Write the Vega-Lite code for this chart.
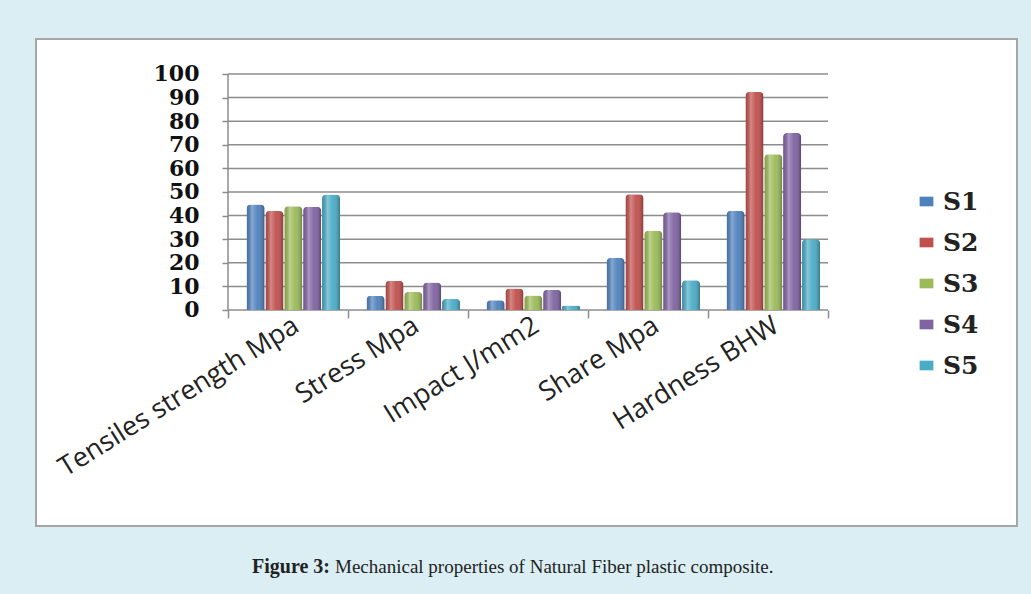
{
  "$schema": "https://vega.github.io/schema/vega-lite/v6.json",
  "width": 981,
  "height": 487,
  "autosize": {"type": "none"},
  "padding": {"left": 36, "top": 39, "right": 14, "bottom": 68},
  "background": "#DAEEF3",
  "view": {"fill": "white", "stroke": "#a6a6a6", "strokeWidth": 2},
  "datasets": {
    "bars": [
      {"prop": "Tensiles strength Mpa", "series": "S1", "value": 44.7},
      {"prop": "Tensiles strength Mpa", "series": "S2", "value": 41.9},
      {"prop": "Tensiles strength Mpa", "series": "S3", "value": 44.0},
      {"prop": "Tensiles strength Mpa", "series": "S4", "value": 43.8},
      {"prop": "Tensiles strength Mpa", "series": "S5", "value": 48.9},
      {"prop": "Stress Mpa", "series": "S1", "value": 6.0},
      {"prop": "Stress Mpa", "series": "S2", "value": 12.4},
      {"prop": "Stress Mpa", "series": "S3", "value": 7.6},
      {"prop": "Stress Mpa", "series": "S4", "value": 11.6},
      {"prop": "Stress Mpa", "series": "S5", "value": 4.7},
      {"prop": "Impact J/mm2", "series": "S1", "value": 4.1},
      {"prop": "Impact J/mm2", "series": "S2", "value": 9.1},
      {"prop": "Impact J/mm2", "series": "S3", "value": 6.1},
      {"prop": "Impact J/mm2", "series": "S4", "value": 8.6},
      {"prop": "Impact J/mm2", "series": "S5", "value": 1.9},
      {"prop": "Share Mpa", "series": "S1", "value": 22.0},
      {"prop": "Share Mpa", "series": "S2", "value": 49.0},
      {"prop": "Share Mpa", "series": "S3", "value": 33.6},
      {"prop": "Share Mpa", "series": "S4", "value": 41.4},
      {"prop": "Share Mpa", "series": "S5", "value": 12.6},
      {"prop": "Hardness BHW", "series": "S1", "value": 42.0},
      {"prop": "Hardness BHW", "series": "S2", "value": 92.4},
      {"prop": "Hardness BHW", "series": "S3", "value": 66.0},
      {"prop": "Hardness BHW", "series": "S4", "value": 75.0},
      {"prop": "Hardness BHW", "series": "S5", "value": 30.0}
    ],
    "ticks": [
      {"v": 0}, {"v": 10}, {"v": 20}, {"v": 30}, {"v": 40}, {"v": 50},
      {"v": 60}, {"v": 70}, {"v": 80}, {"v": 90}, {"v": 100}
    ]
  },
  "layer": [
    {
      "data": {"name": "ticks"},
      "mark": {"type": "rule", "color": "#8c8c8c", "strokeWidth": 1.5},
      "encoding": {
        "x": {"datum": "Tensiles strength Mpa", "bandPosition": 0},
        "x2": {"datum": "Hardness BHW", "bandPosition": 1},
        "y": {
          "field": "v", "type": "quantitative",
          "scale": {"domain": [-91.53, 114.83], "nice": false, "zero": false},
          "axis": {
            "values": [0, 10, 20, 30, 40, 50, 60, 70, 80, 90, 100],
            "offset": -192, "domain": false, "grid": false, "title": null, "zindex": 1,
            "tickColor": "#8c8c8c", "tickSize": 6, "tickWidth": 1.5,
            "labelFont": "DejaVu Serif", "labelFontWeight": "bold", "labelFontSize": 22,
            "labelColor": "#111111", "labelPadding": 23, "labelOverlap": false
          }
        }
      }
    },
    {
      "data": {"values": [{"edge": "left wall"}]},
      "mark": {"type": "rule", "color": "#8c8c8c", "strokeWidth": 1.5},
      "encoding": {
        "x": {"datum": "Tensiles strength Mpa", "bandPosition": 0},
        "y": {"datum": 0},
        "y2": {"datum": 100}
      }
    },
    {
      "data": {"name": "bars"},
      "mark": {"type": "bar", "cornerRadiusTopLeft": 4, "cornerRadiusTopRight": 4},
      "encoding": {
        "x": {
          "field": "prop", "type": "nominal", "sort": null,
          "scale": {
            "domain": ["Tensiles strength Mpa", "Stress Mpa", "Impact J/mm2", "Share Mpa", "Hardness BHW"],
            "range": [192, 792], "paddingInner": 0, "paddingOuter": 0
          },
          "axis": {
            "tickBand": "extent", "offset": -216, "domain": false, "grid": false, "title": null, "zindex": 1,
            "tickColor": "#8c8c8c", "tickSize": 8, "tickWidth": 1.5,
            "labelAngle": -32, "labelAlign": "right", "labelBaseline": "middle",
            "labelFont": "Open Sans", "labelFontSize": 27, "labelColor": "#222222",
            "labelPadding": 5, "labelOffset": 8, "labelLimit": 500, "labelOverlap": false
          }
        },
        "xOffset": {
          "field": "series", "type": "nominal",
          "scale": {"paddingInner": 0.04, "paddingOuter": 0.7, "align": 0.7}
        },
        "y": {"field": "value", "type": "quantitative"},
        "color": {
          "field": "series", "type": "nominal",
          "scale": {
            "domain": ["S1", "S2", "S3", "S4", "S5"],
            "range": ["#4F81BD", "#C0504D", "#9BBB59", "#8064A2", "#4BACC6"]
          },
          "legend": {
            "orient": "none", "legendX": 878, "legendY": 150, "title": null,
            "padding": 0,
            "symbolType": "M-1,-0.7H1V0.7H-1Z", "symbolSize": 190, "symbolStrokeWidth": 0,
            "labelFont": "DejaVu Serif", "labelFontWeight": "bold", "labelFontSize": 25,
            "labelColor": "#222222", "rowPadding": 15, "labelOffset": 4
          }
        }
      }
    },
    {
      "data": {"name": "bars"},
      "mark": {
        "type": "bar", "cornerRadiusTopLeft": 4, "cornerRadiusTopRight": 4,
        "fill": {
          "gradient": "linear", "x1": 0, "y1": 0, "x2": 1, "y2": 0,
          "stops": [
            {"offset": 0, "color": "rgba(0,0,0,0.12)"},
            {"offset": 0.3, "color": "rgba(255,255,255,0.32)"},
            {"offset": 0.6, "color": "rgba(255,255,255,0.04)"},
            {"offset": 1, "color": "rgba(0,0,0,0.3)"}
          ]
        }
      },
      "encoding": {
        "x": {"field": "prop", "type": "nominal", "sort": null},
        "xOffset": {"field": "series", "type": "nominal"},
        "y": {"field": "value", "type": "quantitative"}
      }
    },
    {
      "data": {"values": [{"text": "Figure 3:"}]},
      "mark": {
        "type": "text", "align": "right", "baseline": "middle", "dx": -18,
        "font": "Liberation Serif", "fontWeight": "bold", "fontSize": 20, "color": "#222222"
      },
      "encoding": {
        "x": {"datum": "Stress Mpa", "bandPosition": 0},
        "y": {"datum": -108.9},
        "text": {"field": "text"}
      }
    },
    {
      "data": {"values": [{"text": "Mechanical properties of Natural Fiber plastic composite."}]},
      "mark": {
        "type": "text", "align": "left", "baseline": "middle", "dx": -13,
        "font": "Liberation Serif", "fontSize": 19, "color": "#222222"
      },
      "encoding": {
        "x": {"datum": "Stress Mpa", "bandPosition": 0},
        "y": {"datum": -108.9},
        "text": {"field": "text"}
      }
    }
  ]
}
